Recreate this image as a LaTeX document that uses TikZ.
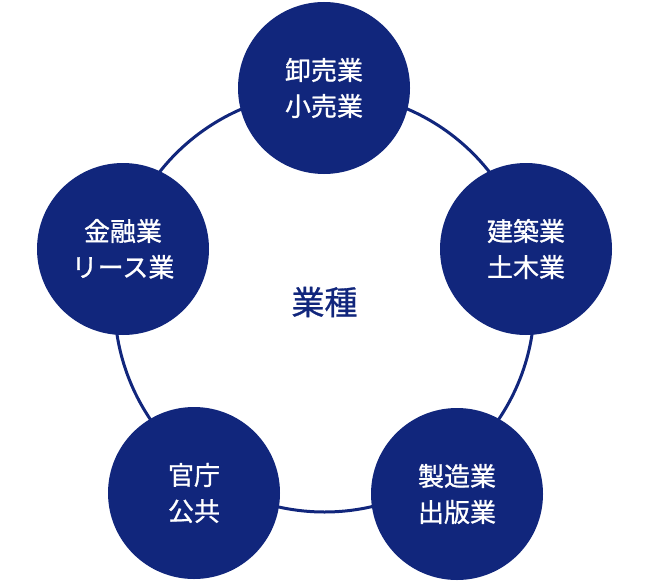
\documentclass[tikz,border=0pt]{standalone}
\usepackage{fontspec}
\setmainfont{Noto Sans CJK JP}
\newfontfamily\jpmedium[FakeBold=0.9]{Noto Sans CJK JP}
\definecolor{navy}{RGB}{17,38,124}
\tikzset{
  sector/.style={circle,fill=navy,minimum size=172pt,inner sep=0pt,
    text=white,align=center,font=\jpmedium\fontsize{26}{36}\selectfont},
  ring/.style={navy,line width=3pt},
}
\begin{document}
\begin{tikzpicture}[x=1pt,y=-1pt]
\useasboundingbox (0,0) rectangle (652,580);
\coordinate (centre) at (324.5,302);
\draw[ring] (centre) circle (210pt); %ring
\node[sector] (trade) at (324,88) {卸売業\\小売業};
\node[sector] (build) at (526,249) {建築業\\土木業};
\node[sector] (maker) at (457,494) {製造業\\出版業};
\node[sector] (public) at (194,493) {官庁\\公共};
\node[sector] (finance) at (123,249) {金融業\\リース業};
\node[text=navy,font=\jpmedium\fontsize{33}{40}\selectfont] (kind) at (centre) {業種};
\end{tikzpicture}
\end{document}
